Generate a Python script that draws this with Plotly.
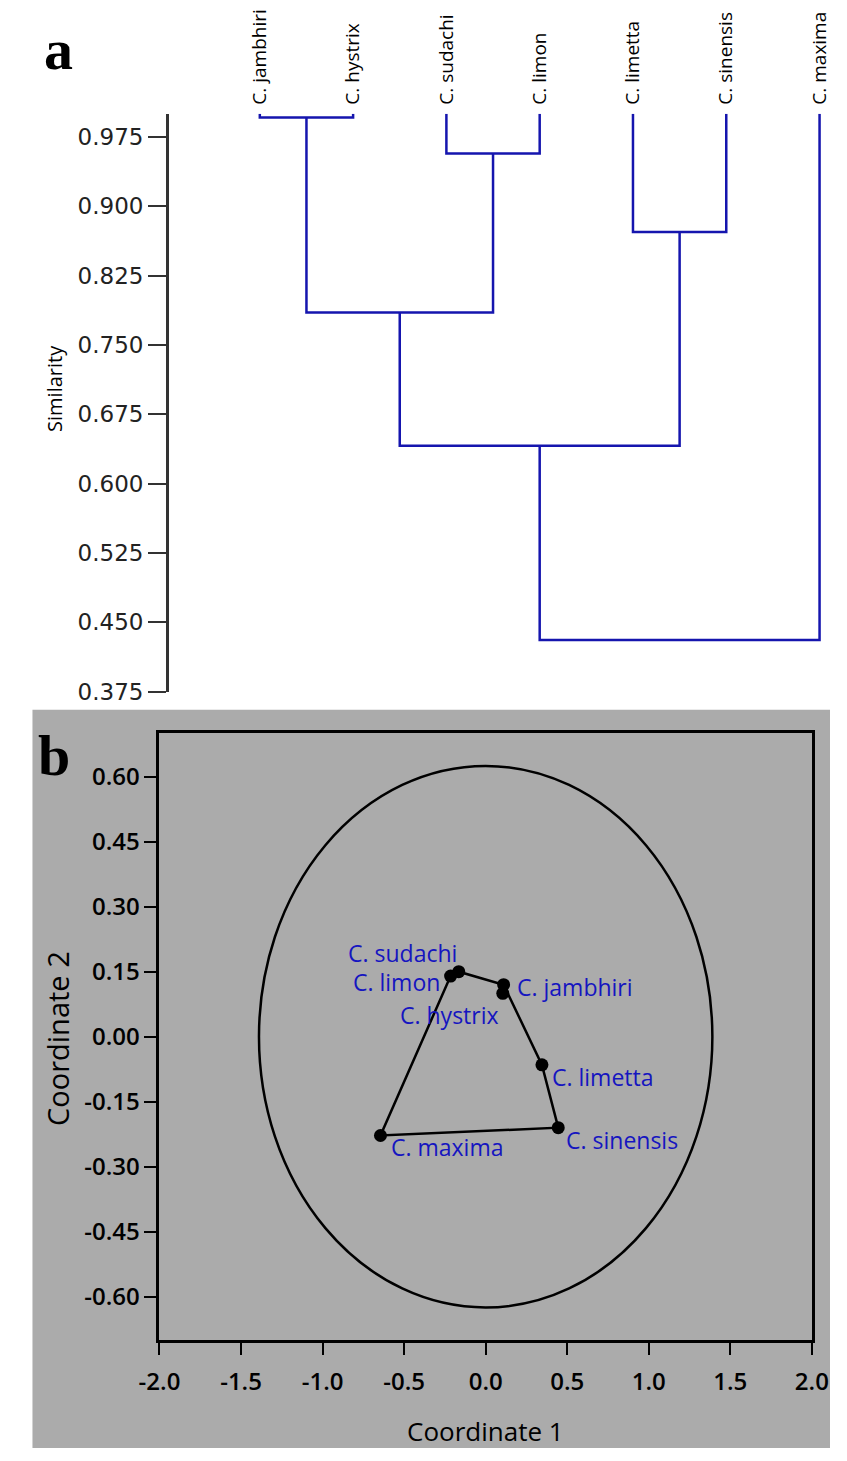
import plotly.graph_objects as go

# ---------------- data: panel a (dendrogram) ----------------
leaves = ["C. jambhiri", "C. hystrix", "C. sudachi", "C. limon",
          "C. limetta", "C. sinensis", "C. maxima"]
leaf_top = 1.0
# (left node, right node, similarity); nodes >= 7 are earlier merges
merges = [(0, 1, 0.996), (2, 3, 0.957), (4, 5, 0.872),
          (7, 8, 0.785), (10, 9, 0.641), (11, 6, 0.431)]
sim_ticks = [0.375, 0.450, 0.525, 0.600, 0.675, 0.750, 0.825, 0.900, 0.975]

# ---------------- data: panel b (PCoA) ----------------
species = ["C. sudachi", "C. limon", "C. hystrix", "C. jambhiri",
           "C. limetta", "C. sinensis", "C. maxima"]
coord1 = [-0.165, -0.215, 0.105, 0.110, 0.345, 0.445, -0.645]
coord2 = [0.150, 0.140, 0.100, 0.120, -0.065, -0.210, -0.228]
hull_order = ["C. limon", "C. sudachi", "C. jambhiri", "C. limetta",
              "C. sinensis", "C. maxima", "C. limon"]
ellipse_rx = 1.39
ellipse_ry = 0.625
x_ticks = [-2.0, -1.5, -1.0, -0.5, 0.0, 0.5, 1.0, 1.5, 2.0]
y_ticks = [-0.60, -0.45, -0.30, -0.15, 0.00, 0.15, 0.30, 0.45, 0.60]

# ---------------- layout helpers ----------------
W, H = 847, 1461
def px(x):
    return x / W
def py(y):
    return 1 - y / H

fig = go.Figure()

# build dendrogram segments
pos = {i: float(i) for i in range(len(leaves))}
hgt = {i: leaf_top for i in range(len(leaves))}
dx, dy = [], []
for k, (a, b, h) in enumerate(merges):
    nid = len(leaves) + k
    dx += [pos[a], pos[a], pos[b], pos[b], None]
    dy += [hgt[a], h, h, hgt[b], None]
    pos[nid] = (pos[a] + pos[b]) / 2
    hgt[nid] = h

fig.add_trace(go.Scatter(x=dx, y=dy, mode="lines",
                         line=dict(color="#1515AE", width=2.5),
                         xaxis="x", yaxis="y", showlegend=False, hoverinfo="skip"))

# PCoA hull
idx = {n: i for i, n in enumerate(species)}
hx = [coord1[idx[n]] for n in hull_order]
hy = [coord2[idx[n]] for n in hull_order]
fig.add_trace(go.Scatter(x=hx, y=hy, mode="lines",
                         line=dict(color="black", width=2.5),
                         xaxis="x2", yaxis="y2", showlegend=False, hoverinfo="skip"))
fig.add_trace(go.Scatter(x=coord1, y=coord2, mode="markers",
                         marker=dict(color="black", size=13),
                         xaxis="x2", yaxis="y2", showlegend=False))

label_style = {
    "C. sudachi": dict(xanchor="right", xshift=-1, yshift=19),
    "C. limon": dict(xanchor="right", xshift=-10, yshift=-6),
    "C. hystrix": dict(xanchor="right", xshift=-3, yshift=-22),
    "C. jambhiri": dict(xanchor="left", xshift=12, yshift=-2),
    "C. limetta": dict(xanchor="left", xshift=9, yshift=-12),
    "C. sinensis": dict(xanchor="left", xshift=7, yshift=-12),
    "C. maxima": dict(xanchor="left", xshift=10, yshift=-12),
}
annotations = []
for n, x, y in zip(species, coord1, coord2):
    annotations.append(dict(x=x, y=y, xref="x2", yref="y2", text=n, showarrow=False,
                            yanchor="middle", borderpad=0,
                            font=dict(family="Open Sans", size=23, color="#1515C0"),
                            **label_style[n]))

annotations += [
    dict(x=px(39), y=py(50), xref="paper", yref="paper", text="<b>a</b>",
         xanchor="center", yanchor="middle", showarrow=False,
         font=dict(family="Liberation Serif", size=58, color="black")),
    dict(x=px(35), y=py(762), xref="paper", yref="paper", text="<b>b</b>",
         xanchor="center", yanchor="middle", showarrow=False,
         font=dict(family="Liberation Serif", size=58, color="black")),
    dict(x=px(35), y=py(392), xref="paper", yref="paper", text="Similarity",
         xanchor="center", yanchor="middle", textangle=-90, showarrow=False,
         font=dict(family="Open Sans", size=20, color="black")),
    dict(x=px(38), y=py(1048), xref="paper", yref="paper", text="Coordinate 2",
         xanchor="center", yanchor="middle", textangle=-90, showarrow=False,
         font=dict(family="Open Sans", size=29, color="black", weight=500)),
    dict(x=px(486), y=py(1444), xref="paper", yref="paper", text="Coordinate 1",
         xanchor="center", yanchor="middle", showarrow=False,
         font=dict(family="Open Sans", size=26, color="black", weight=500)),
]

shapes = [
    dict(type="rect", xref="paper", yref="paper", x0=px(12), x1=1, y0=0, y1=py(716),
         fillcolor="#ABABAB", line=dict(width=0), layer="below"),
    dict(type="circle", xref="x2", yref="y2", x0=-ellipse_rx, x1=ellipse_rx,
         y0=-ellipse_ry, y1=ellipse_ry, line=dict(color="black", width=2.5)),
]

fig.update_layout(
    width=W, height=H, margin=dict(l=0, r=0, t=0, b=0),
    paper_bgcolor="white", plot_bgcolor="rgba(0,0,0,0)",
    showlegend=False,
    annotations=annotations, shapes=shapes,
    xaxis=dict(domain=[px(155), 1], range=[-0.973, 6.112], side="top",
               tickvals=list(range(len(leaves))), ticktext=leaves, tickangle=-90,
               ticks="", showline=False, showgrid=False, zeroline=False,
               ticklabelstandoff=8,
               tickfont=dict(family="Open Sans", size=19, color="black"),
               anchor="y"),
    yaxis=dict(domain=[py(698), py(114.7)], range=[0.375, 1.0],
               tickvals=sim_ticks, ticktext=[f"{v:.3f}" for v in sim_ticks],
               ticks="outside", ticklen=18, tickwidth=2, tickcolor="#333",
               showline=True, linecolor="#333", linewidth=3,
               showgrid=False, zeroline=False,
               tickfont=dict(family="DejaVu Sans", size=23, color="#222"),
               anchor="x"),
    xaxis2=dict(domain=[px(145), px(828)], range=[-2, 2],
                tickvals=x_ticks, ticktext=[f"{v:.1f}" for v in x_ticks],
                ticks="outside", ticklen=12, tickwidth=2, tickcolor="black",
                showline=True, mirror=True, linecolor="black", linewidth=3,
                showgrid=False, zeroline=False, ticklabelstandoff=6,
                tickfont=dict(family="Open Sans", size=24, color="black", weight=600),
                anchor="y2"),
    yaxis2=dict(domain=[py(1352), py(740)], range=[-0.70, 0.70],
                tickvals=y_ticks, ticktext=[f"{v:.2f}" for v in y_ticks],
                ticks="outside", ticklen=12, tickwidth=2, tickcolor="black",
                showline=True, mirror=True, linecolor="black", linewidth=3,
                showgrid=False, zeroline=False,
                tickfont=dict(family="Open Sans", size=24, color="black", weight=600),
                anchor="x2"),
)

fig.write_html("out.html")
